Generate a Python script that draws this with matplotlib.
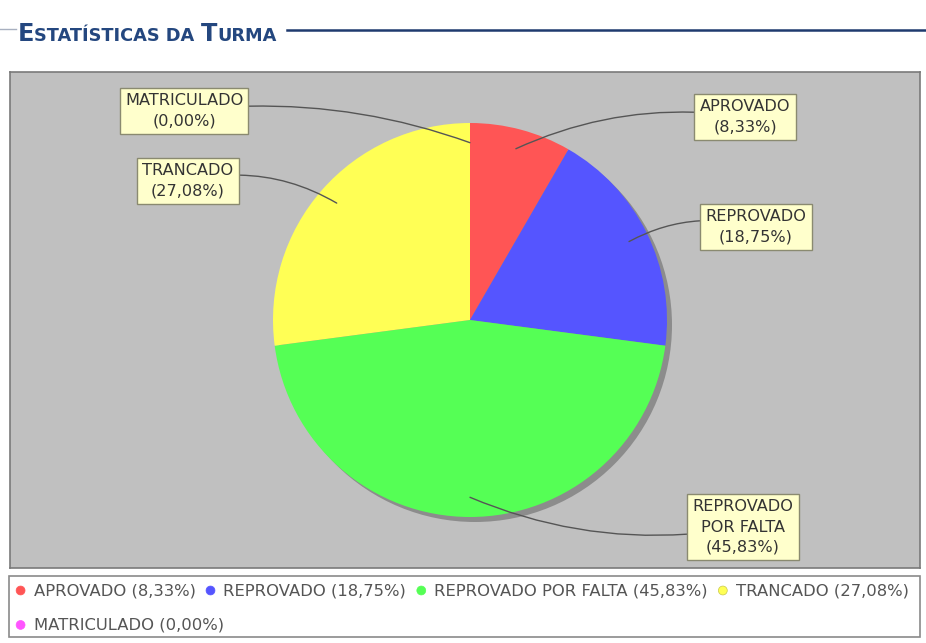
import matplotlib
matplotlib.use("Agg")
import matplotlib.pyplot as plt
import numpy as np
from matplotlib.patches import Circle, Rectangle
from matplotlib.lines import Line2D
from matplotlib.offsetbox import TextArea, DrawingArea, HPacker, VPacker, AnchoredOffsetbox

plt.rcParams["font.family"] = ["DejaVu Sans"]

# ---------------- data ----------------
categories = ["APROVADO", "REPROVADO", "REPROVADO POR FALTA", "TRANCADO", "MATRICULADO"]
percentages = [8.33, 18.75, 45.83, 27.08, 0.00]
colors = ["#FF5555", "#5555FF", "#55FF55", "#FFFF55", "#FF55FF"]
title_parts = [("E", "big"), ("STATÍSTICAS DA ", "small"), ("T", "big"), ("URMA", "small")]

W, H = 926, 643
fig = plt.figure(figsize=(W / 100, H / 100), dpi=100)
fig.patch.set_facecolor("white")


def fx(px):
    return px / W


def fy(py):
    return 1 - py / H


def fmt(v):
    return f"{v:.2f}".replace(".", ",")


# ---------------- plot area ----------------
L, R, T, B = 10, 920, 72, 568
CX, CY, S = 470, 320, 197  # pie centre (px) and radius (px)
ax = fig.add_axes([fx(L), fy(B), (R - L) / W, (B - T) / H])
ax.set_facecolor("#C0C0C0")

# shadow
ax.add_patch(Circle((5 / S, -5 / S), 1.0, color="#8C8C8C", zorder=1, lw=0))
wedges, _ = ax.pie(percentages, colors=colors, startangle=90, counterclock=False,
                   radius=1.0, center=(0, 0), frame=True,
                   wedgeprops=dict(linewidth=0, zorder=2))
for w in wedges:
    w.set_zorder(2)

ax.set_aspect("auto")
ax.set_xlim((L - CX) / S, (R - CX) / S)
ax.set_ylim((CY - B) / S, (CY - T) / S)
ax.set_xticks([])
ax.set_yticks([])
for sp in ax.spines.values():
    sp.set_color("#7A7A7A")
    sp.set_linewidth(1.2)

# label positions (px) and leader curvature
label_px = [(745, 117), (756, 227), (743, 527), (188, 181), (184, 111)]
label_text = ["APROVADO", "REPROVADO", "REPROVADO\nPOR FALTA", "TRANCADO", "MATRICULADO"]
rads = [0.15, 0.2, -0.15, -0.2, -0.12]

for w, lab, (px, py), rad, pct in zip(wedges, label_text, label_px, rads, percentages):
    mid = np.deg2rad((w.theta1 + w.theta2) / 2)
    anchor = (0.9 * np.cos(mid), 0.9 * np.sin(mid))
    pos = ((px - CX) / S, (CY - py) / S)
    ax.annotate(f"{lab}\n({fmt(pct)}%)", xy=anchor, xytext=pos,
                ha="center", va="center", fontsize=11.6, color="#333333",
                linespacing=1.42, multialignment="center", zorder=5,
                bbox=dict(boxstyle="square,pad=0.33", fc="#FFFFCC", ec="#8A8A70", lw=1),
                arrowprops=dict(arrowstyle="-", color="#555555", lw=1,
                                connectionstyle=f"arc3,rad={rad}",
                                shrinkA=0, shrinkB=0))

# ---------------- legend ----------------
fig.add_artist(Rectangle((fx(9), fy(637)), (920 - 9) / W, (637 - 576) / H,
                         transform=fig.transFigure, fc="white", ec="#8A8A8A", lw=1.2))
items = []
for c, cat, pct in zip(colors, categories, percentages):
    da = DrawingArea(6.6, 6.6, 0, 0)
    da.add_artist(Circle((3.3, 3.3), 3.2, fc=c, ec=c if c != "#FFFF55" else "#C8C850", lw=0.5))
    ta = TextArea(f"{cat} ({fmt(pct)}%)", textprops=dict(size=11.8, color="#555555"))
    items.append(HPacker(children=[da, ta], align="center", pad=0, sep=6))
row1 = HPacker(children=items[:4], align="center", pad=0, sep=7.5)
row2 = HPacker(children=items[4:], align="center", pad=0, sep=7.5)
vp = VPacker(children=[row1, row2], align="left", pad=0, sep=14)
fig.add_artist(AnchoredOffsetbox(loc="upper left", child=vp, pad=0, borderpad=0,
                                 frameon=False, bbox_to_anchor=(fx(16), fy(583)),
                                 bbox_transform=fig.transFigure))

# ---------------- title ----------------
renderer = fig.canvas.get_renderer()
x = 18
sizes = {"big": 17.3, "small": 12.8}
for txt, kind in title_parts:
    t = fig.text(fx(x), fy(41), txt, fontsize=sizes[kind], fontweight="bold",
                 color="#24477F", va="baseline", ha="left")
    bb = t.get_window_extent(renderer)
    x += bb.width
fig.add_artist(Line2D([fx(x + 10), 1], [fy(30), fy(30)], color="#1F3A6E", lw=1.8,
                      transform=fig.transFigure))
fig.add_artist(Line2D([0, fx(16)], [fy(29), fy(29)], color="#A8B0C0", lw=1,
                      transform=fig.transFigure))

fig.savefig("out.png", dpi=100, facecolor="white")
